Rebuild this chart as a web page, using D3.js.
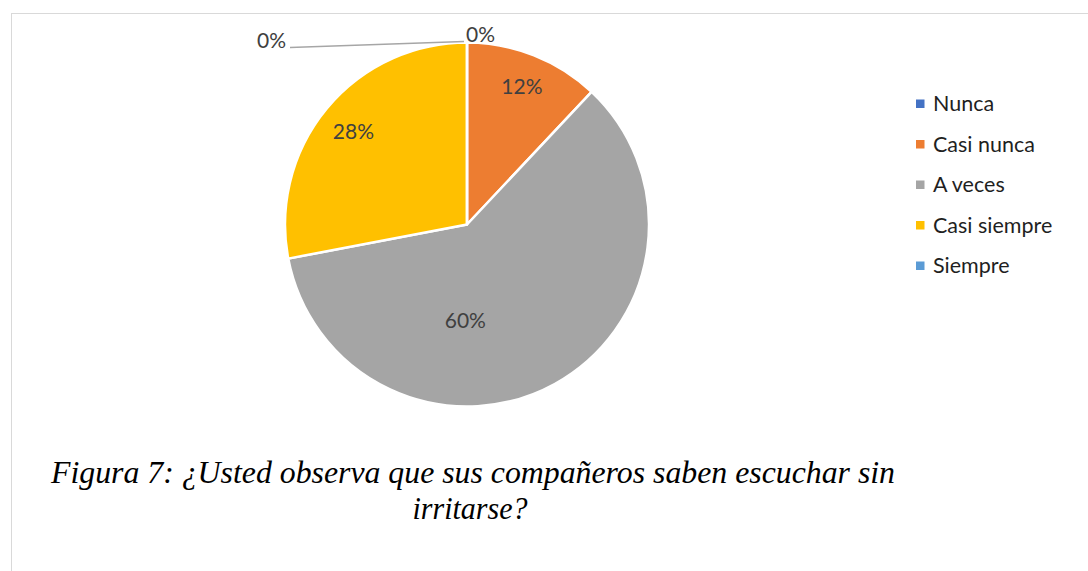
<!DOCTYPE html>
<html>
<head>
<meta charset="utf-8">
<script src="https://cdn.jsdelivr.net/npm/d3@7"></script>
<style>
  html, body { margin: 0; padding: 0; background: #fff; }
  svg { display: block; }
</style>
</head>
<body>
<svg id="chart" width="1088" height="571"></svg>
<script>
// ---- data ----
const categories = ["Nunca", "Casi nunca", "A veces", "Casi siempre", "Siempre"];
const values = [0, 12, 60, 28, 0];
const labels = ["0%", "12%", "60%", "28%", "0%"];
const colors = ["#4472C4", "#ED7D31", "#A5A5A5", "#FFC000", "#5B9BD5"];
const captionLines = ["Figura 7: ¿Usted observa que sus compañeros saben escuchar sin", "irritarse?"];

// ---- layout ----
const svg = d3.select("#chart");
const W = 1088, H = 571;
const cx = 467, cy = 224.5, R = 182;
const labelFont = "Lato, 'Open Sans', sans-serif";

// chart area border
svg.append("rect")
  .attr("x", 11.5).attr("y", 13.5)
  .attr("width", W + 20).attr("height", H + 20)
  .attr("fill", "#fff").attr("stroke", "#D9D9D9").attr("stroke-width", 1);

const pie = d3.pie().sort(null).value(d => d);
const arcs = pie(values);
const arc = d3.arc().innerRadius(0).outerRadius(R);

const g = svg.append("g").attr("transform", `translate(${cx},${cy})`);
g.selectAll("path.slice")
  .data(arcs)
  .join("path")
  .attr("class", "slice")
  .attr("d", arc)
  .attr("fill", (d, i) => colors[i])
  .attr("stroke", "#fff")
  .attr("stroke-width", 2.5)
  .attr("stroke-linejoin", "round");

// label placement (best-fit style)
const placement = [
  { mode: "outTopRight" },
  { mode: "in", r: 0.82 },
  { mode: "in", r: 0.52, angle: 181 },
  { mode: "in", r: 0.81 },
  { mode: "outLeader" }
];

function polar(angleDeg, rad) {
  const a = angleDeg * Math.PI / 180;
  return [Math.sin(a) * rad, -Math.cos(a) * rad];
}

const lblSize = 21;
arcs.forEach((d, i) => {
  const p = placement[i];
  const mid = (d.startAngle + d.endAngle) / 2 * 180 / Math.PI;
  if (p.mode === "in") {
    const ang = p.angle !== undefined ? p.angle : mid;
    const [x, y] = polar(ang, R * p.r);
    g.append("text")
      .attr("x", x).attr("y", y)
      .attr("text-anchor", "middle")
      .attr("dominant-baseline", "central")
      .attr("font-family", labelFont)
      .attr("font-size", lblSize)
      .attr("fill", "#404040")
      .text(labels[i]);
  } else if (p.mode === "outTopRight") {
    const [x, y] = polar(mid, R + 4);
    g.append("text")
      .attr("x", x - 1).attr("y", y - 5)
      .attr("text-anchor", "start")
      .attr("dominant-baseline", "central")
      .attr("font-family", labelFont)
      .attr("font-size", lblSize)
      .attr("fill", "#404040")
      .text(labels[i]);
  } else {
    const [x0, y0] = polar(mid, R + 1);
    const x1 = x0 - 177, y1 = y0 + 6;
    g.append("line")
      .attr("x1", x0 - 3).attr("y1", y0)
      .attr("x2", x1).attr("y2", y1)
      .attr("stroke", "#A6A6A6").attr("stroke-width", 1.3);
    g.append("text")
      .attr("x", x1 - 4).attr("y", y1 - 8)
      .attr("text-anchor", "end")
      .attr("dominant-baseline", "central")
      .attr("font-family", labelFont)
      .attr("font-size", lblSize)
      .attr("fill", "#404040")
      .text(labels[i]);
  }
});

// legend
const lg = svg.append("g").attr("transform", "translate(916,103)");
const rowH = 40.5;
const items = lg.selectAll("g.item")
  .data(categories)
  .join("g")
  .attr("class", "item")
  .attr("transform", (d, i) => `translate(0,${i * rowH})`);
items.append("rect")
  .attr("x", 0).attr("y", -3.5)
  .attr("width", 8.5).attr("height", 8.5)
  .attr("fill", (d, i) => colors[i]);
items.append("text")
  .attr("x", 17).attr("y", 0)
  .attr("dominant-baseline", "central")
  .attr("font-family", labelFont)
  .attr("font-size", 21.5)
  .attr("fill", "#1f1f1f")
  .text(d => d);

// caption
const capX = 473;
const cap = svg.append("g");
cap.append("text")
  .attr("x", capX).attr("y", 483)
  .attr("text-anchor", "middle")
  .attr("font-family", "'Liberation Serif', 'Times New Roman', serif")
  .attr("font-style", "italic")
  .attr("font-size", 32)
  .attr("fill", "#000")
  .attr("textLength", 844)
  .attr("lengthAdjust", "spacingAndGlyphs")
  .text(captionLines[0]);
cap.append("text")
  .attr("x", capX - 3).attr("y", 519)
  .attr("text-anchor", "middle")
  .attr("font-family", "'Liberation Serif', 'Times New Roman', serif")
  .attr("font-style", "italic")
  .attr("font-size", 32)
  .attr("fill", "#000")
  .attr("textLength", 115)
  .attr("lengthAdjust", "spacingAndGlyphs")
  .text(captionLines[1]);
</script>
</body>
</html>
